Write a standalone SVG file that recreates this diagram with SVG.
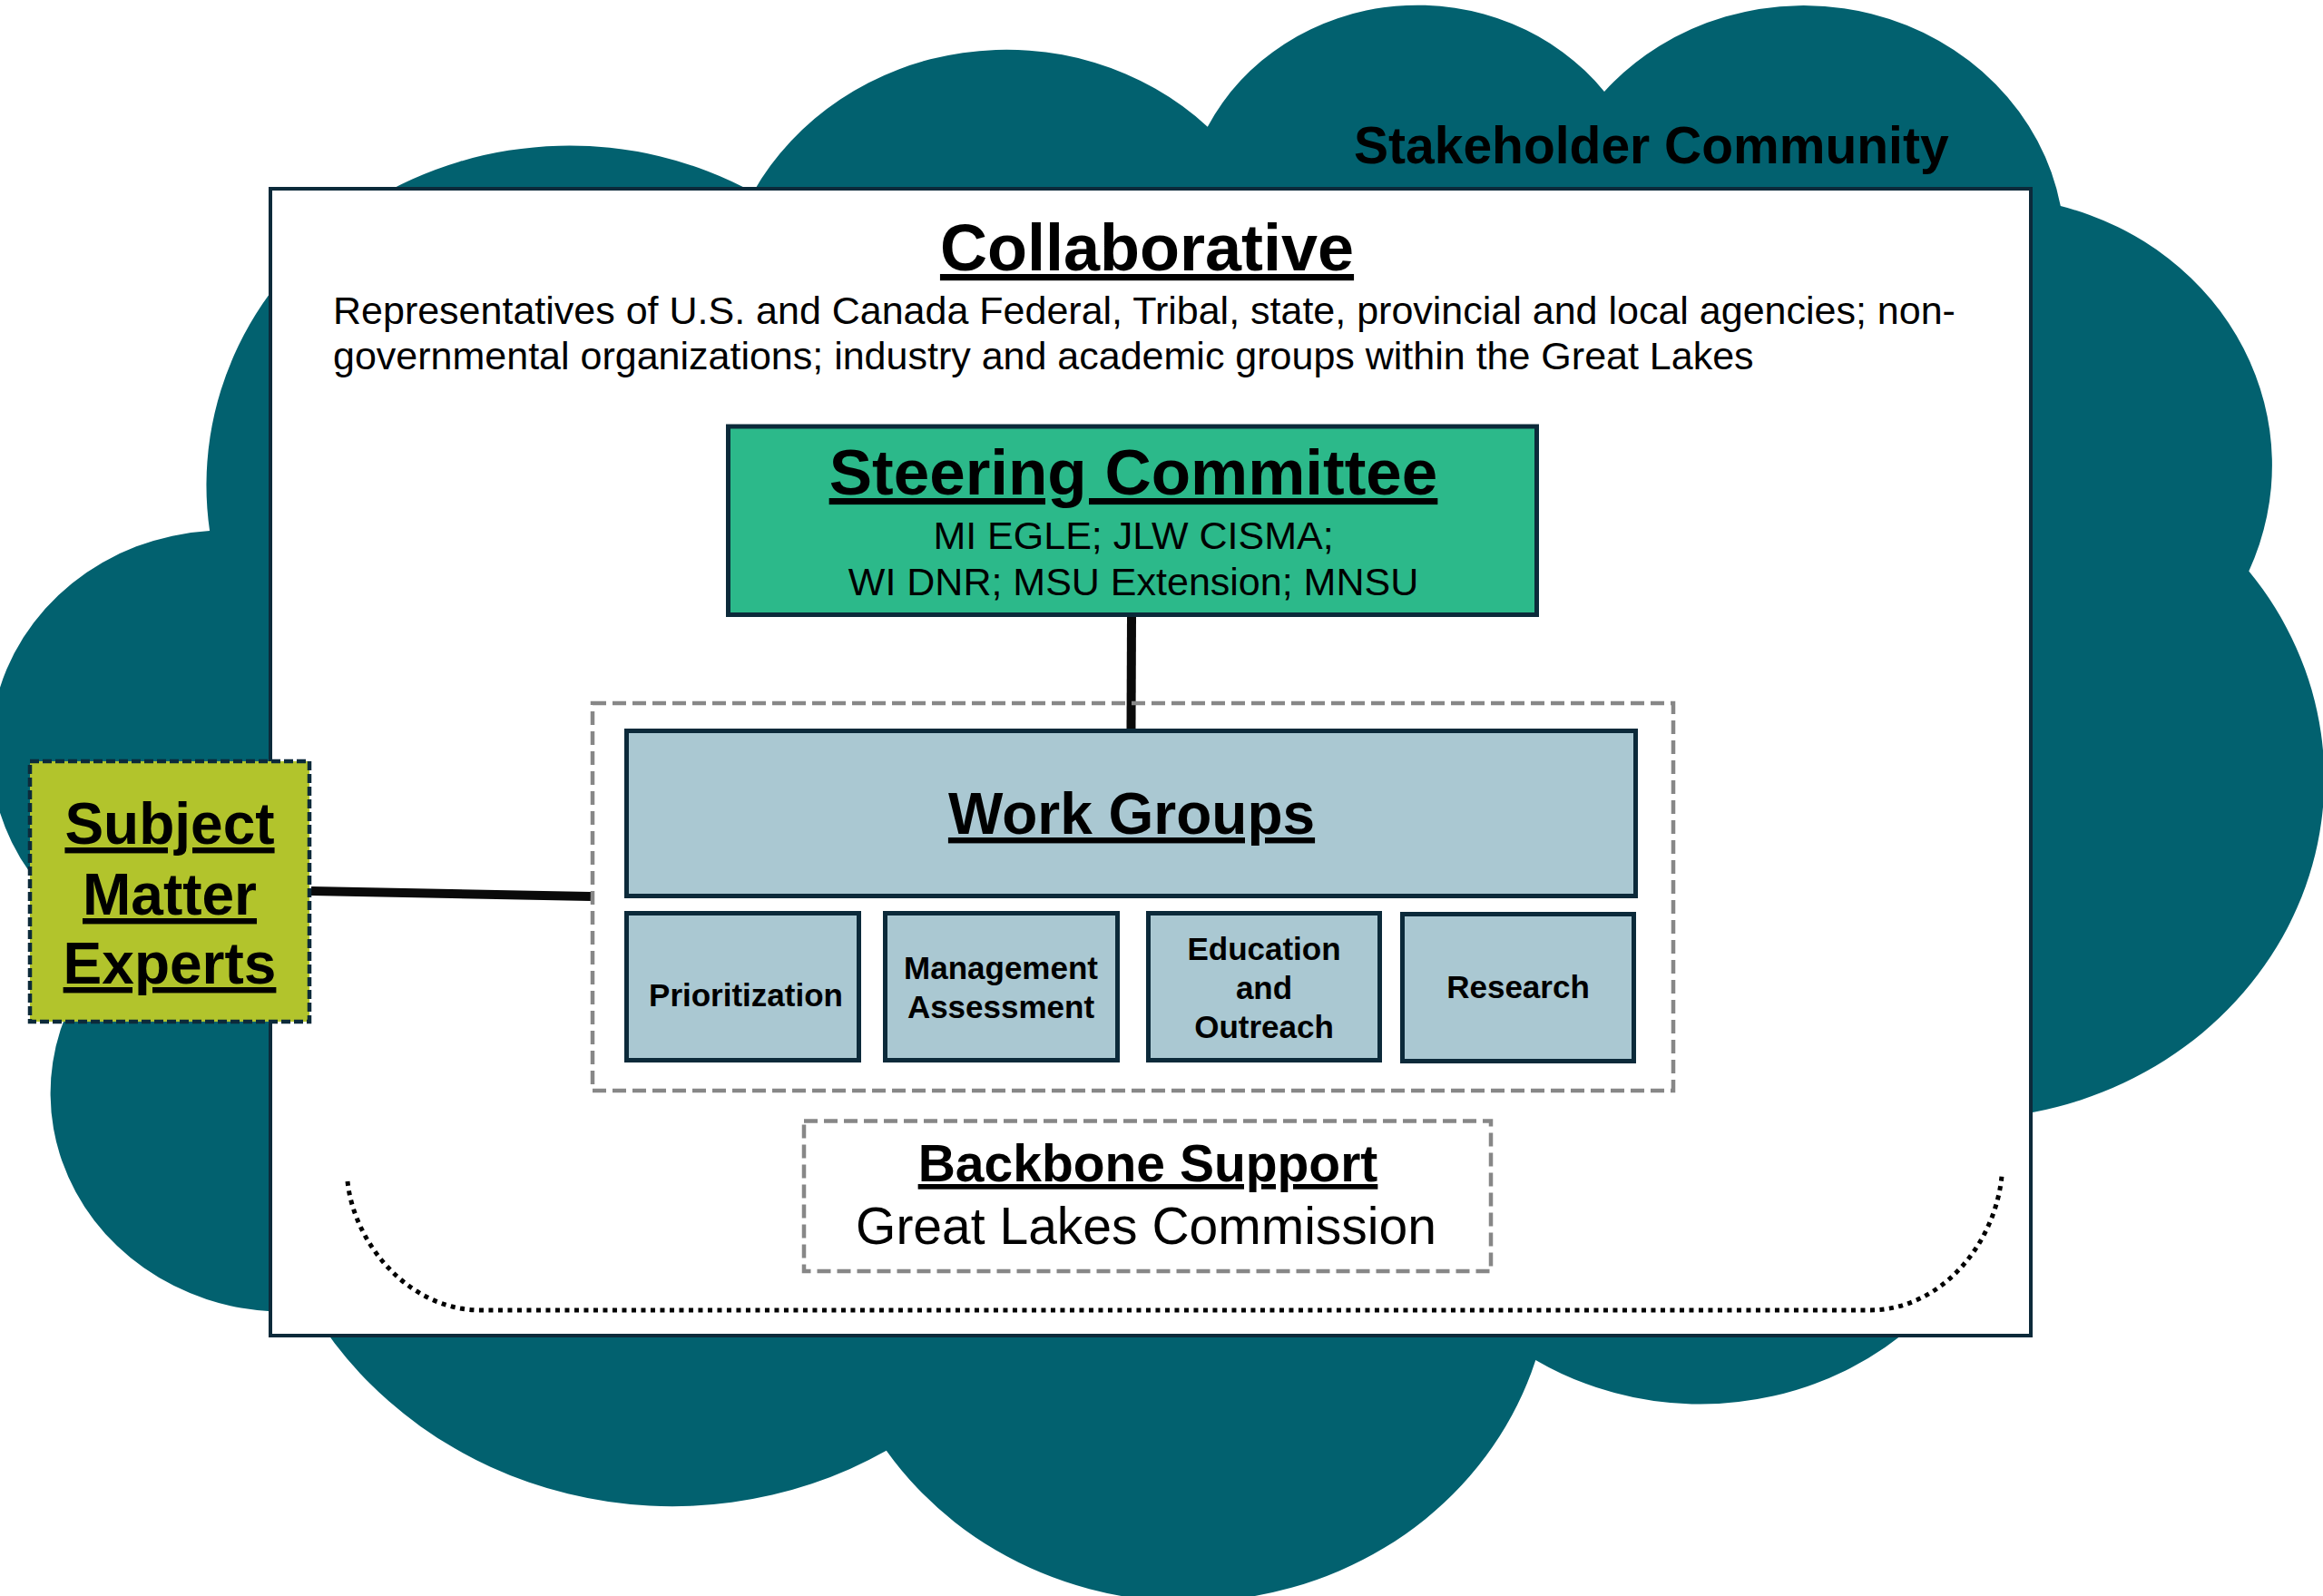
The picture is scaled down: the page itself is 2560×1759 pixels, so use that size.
<svg xmlns="http://www.w3.org/2000/svg" width="2560" height="1759" viewBox="0 0 2560 1759">
<style>
.t{font-family:"Liberation Sans",Arial,sans-serif;fill:#000}
.b{font-weight:bold}
.u{text-decoration:underline}
.c{text-anchor:middle}
.node{stroke:#0c2a3a;stroke-width:5}
.wg{fill:#aac8d2}
.dash{fill:none;stroke:#878787;stroke-width:4.5;stroke-dasharray:15 7}
.conn{stroke:#0a0a0a;stroke-width:10;fill:none}
</style>
<rect x="0" y="0" width="2560" height="1759" fill="#ffffff"/>
<g id="stakeholder-community">
<path d="M231.1,585.1 A400.2,374.2 0 0 1 830.0,211.9 A316.0,295.9 0 0 1 1330.8,139.7 A258.7,242.1 0 0 1 1768.0,101.0 A287.8,268.5 0 0 1 2270.8,227.0 A316.0,296.1 0 0 1 2478.3,629.5 A401.5,375.4 0 0 1 2216.7,1229.8 A342.8,320.3 0 0 1 1692.3,1498.9 A400.1,375.2 0 0 1 976.8,1598.8 A457.5,429.3 0 0 1 344.1,1444.2 A258.4,241.0 0 0 1 125.3,1040.2 A257.5,242.1 0 0 1 231.1,585.1 Z" fill="#02616f"/>
<text class="t b" x="1492" y="180" font-size="57">Stakeholder Community</text>
</g>
<g id="collaborative">
<rect x="298" y="208" width="1940" height="1264" fill="#ffffff" stroke="#0c2a3a" stroke-width="4"/>
<text class="t b u c" x="1264" y="298" font-size="72">Collaborative</text>
<text class="t" x="367" y="357" font-size="43">Representatives of U.S. and Canada Federal, Tribal, state, provincial and local agencies; non-</text>
<text class="t" x="367" y="407" font-size="43">governmental organizations; industry and academic groups within the Great Lakes</text>
<path d="M383,1302 C390,1370 450,1444 530,1444 L2060,1444 C2140,1444 2199,1370 2206,1296" fill="none" stroke="#000" stroke-width="5" stroke-dasharray="5 5.5"/>
</g>
<g id="connectors">
<line class="conn" x1="1247" y1="680" x2="1246.5" y2="803"/>
<line class="conn" x1="343" y1="982" x2="651" y2="988"/>
</g>
<g id="steering-committee">
<rect class="node" x="802.5" y="470" width="891" height="207.5" fill="#2cb98a"/>
<text class="t b u c" x="1249" y="545" font-size="71">Steering Committee</text>
<text class="t c" x="1249" y="605" font-size="43">MI EGLE; JLW CISMA;</text>
<text class="t c" x="1249" y="656" font-size="43">WI DNR; MSU Extension; MNSU</text>
</g>
<g id="work-groups-container">
<rect class="dash" x="653" y="775" width="1191" height="427"/>
</g>
<g id="work-groups">
<rect class="node wg" x="690.5" y="805.5" width="1112" height="182"/>
<text class="t b u c" x="1247" y="919" font-size="64">Work Groups</text>
</g>
<g id="prioritization">
<rect class="node wg" x="690.5" y="1006.5" width="256" height="162"/>
<text class="t b c" x="822" y="1109" font-size="35">Prioritization</text>
</g>
<g id="management-assessment">
<rect class="node wg" x="975.5" y="1006.5" width="256" height="162"/>
<text class="t b c" x="1103" y="1079" font-size="35">Management</text>
<text class="t b c" x="1103" y="1122" font-size="35">Assessment</text>
</g>
<g id="education-outreach">
<rect class="node wg" x="1265.5" y="1006.5" width="255" height="162"/>
<text class="t b c" x="1393" y="1058" font-size="35">Education</text>
<text class="t b c" x="1393" y="1101" font-size="35">and</text>
<text class="t b c" x="1393" y="1144" font-size="35">Outreach</text>
</g>
<g id="research">
<rect class="node wg" x="1545.5" y="1007.5" width="255" height="162"/>
<text class="t b c" x="1673" y="1100" font-size="35">Research</text>
</g>
<g id="backbone-support">
<rect class="dash" x="886" y="1235.5" width="757" height="165.5"/>
<text class="t b u c" x="1265" y="1302" font-size="57">Backbone Support</text>
<text class="t c" x="1263" y="1371" font-size="57">Great Lakes Commission</text>
</g>
<g id="subject-matter-experts">
<rect x="33" y="839" width="308" height="287" fill="#b2c42c" stroke="#0c2a3a" stroke-width="4.5" stroke-dasharray="10 4"/>
<text class="t b u c" x="187" y="930" font-size="64">Subject</text>
<text class="t b u c" x="187" y="1008" font-size="64">Matter</text>
<text class="t b u c" x="187" y="1084" font-size="64">Experts</text>
</g>
</svg>
